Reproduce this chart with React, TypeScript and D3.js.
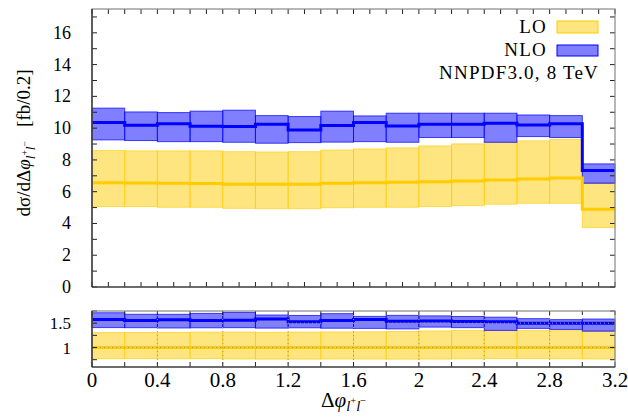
import * as d3 from "d3";
import React from "react";

// bin lower edges (width 0.2)
const binLow = [0, 0.2, 0.4, 0.6, 0.8, 1.0, 1.2, 1.4, 1.6, 1.8, 2.0, 2.2, 2.4, 2.6, 2.8, 3.0];
const binWidth = 0.2;

const loCentral = [6.57, 6.55, 6.53, 6.51, 6.47, 6.47, 6.47, 6.53, 6.57, 6.59, 6.63, 6.68, 6.74, 6.8, 6.86, 4.89];
const loUpper = [8.59, 8.57, 8.57, 8.57, 8.52, 8.5, 8.52, 8.62, 8.69, 8.76, 8.88, 9.01, 9.11, 9.2, 9.3, 6.57];
const loLower = [5.06, 5.06, 5.02, 5.02, 4.95, 4.93, 4.93, 4.99, 5.02, 5.02, 5.06, 5.12, 5.21, 5.27, 5.27, 3.74];

const nloCentral = [10.35, 10.18, 10.27, 10.12, 10.1, 10.25, 9.89, 10.16, 10.35, 10.14, 10.25, 10.25, 10.31, 10.2, 10.27, 7.33];
const nloUpper = [11.26, 11.02, 10.98, 11.07, 11.13, 10.79, 10.73, 11.07, 10.77, 10.94, 10.94, 10.94, 10.94, 10.83, 10.79, 7.75];
const nloLower = [9.26, 9.22, 9.15, 9.15, 9.11, 9.05, 9.09, 9.12, 9.15, 9.11, 9.41, 9.41, 9.11, 9.47, 9.41, 6.53];

const xTickLabels = [0, 0.4, 0.8, 1.2, 1.6, 2, 2.4, 2.8, 3.2];
const yTickLabels = [0, 2, 4, 6, 8, 10, 12, 14, 16];
const ratioTickLabels = [1, 1.5];

const FONT = "Liberation Serif, DejaVu Serif, serif";
const BLUE = "#0000ff";
const BLUE_FILL = "rgba(0,0,255,0.5)";
const GOLD = "#ffcc00";
const GOLD_FILL = "rgba(255,204,0,0.5)";

const left = 92;
const right = 615;
const mainTop = 9;
const mainBottom = 287;
const ratioTop = 311;
const ratioBottom = 367;

const x = d3.scaleLinear().domain([0, 3.2]).range([left, right]);
const y = d3.scaleLinear().domain([0, 17.5]).range([mainBottom, mainTop]);
const yr = d3.scaleLinear().domain([0.6, 1.75]).range([ratioBottom, ratioTop]);

const stepPath = (vals: number[], ys: d3.ScaleLinear<number, number>) => {
  const pts: [number, number][] = binLow.map((b, i) => [b, vals[i]]);
  pts.push([binLow[binLow.length - 1] + binWidth, vals[vals.length - 1]]);
  return d3
    .line<[number, number]>()
    .x((d) => x(d[0]))
    .y((d) => ys(d[1]))
    .curve(d3.curveStepAfter)(pts) as string;
};

const Bands = ({ lo, hi, ys, fill, stroke }: any) => (
  <g>
    {binLow.map((b, i) => (
      <rect
        key={i}
        x={x(b)}
        y={ys(hi[i])}
        width={x(b + binWidth) - x(b)}
        height={ys(lo[i]) - ys(hi[i])}
        fill={fill}
        stroke={stroke}
        strokeWidth={1}
      />
    ))}
  </g>
);

// subscript l+l- used in both axis labels (leaves baseline shifted by d - u)
const Sub = ({ size, d, u }: { size: number; d: number; u: number }) => (
  <>
    <tspan fontSize={size * 0.7} fontStyle="italic" dy={d}>l</tspan>
    <tspan fontSize={size * 0.5} dy={-u}>+</tspan>
    <tspan fontSize={size * 0.7} fontStyle="italic" dy={u}>l</tspan>
    <tspan fontSize={size * 0.5} dy={-u}>−</tspan>
  </>
);

export default function App() {
  const ratio = (arr: number[]) => arr.map((v, i) => v / loCentral[i]);
  const xMinor = d3.range(0, 33).map((i) => i / 10);
  const yMinor = d3.range(0, 18);
  const rMinor = [0.75, 1, 1.25, 1.5, 1.75];

  return (
    <svg width={628} height={417} style={{ position: "absolute", left: 0, top: 0, fontFamily: FONT }}>
      <rect width={628} height={417} fill="#fff" />

      {/* main panel */}
      <Bands lo={loLower} hi={loUpper} ys={y} fill={GOLD_FILL} stroke="rgba(255,204,0,0.6)" />
      <Bands lo={nloLower} hi={nloUpper} ys={y} fill={BLUE_FILL} stroke="rgba(0,0,255,0.7)" />
      <path d={stepPath(loCentral, y)} fill="none" stroke={GOLD} strokeWidth={3} />
      <path d={stepPath(nloCentral, y)} fill="none" stroke={BLUE} strokeWidth={3} />

      {/* main ticks */}
      <g stroke="#222" strokeWidth={1}>
        {xMinor.map((t, i) => (
          <g key={i}>
            <line x1={x(t)} x2={x(t)} y1={mainBottom} y2={mainBottom - 5} />
            <line x1={x(t)} x2={x(t)} y1={mainTop} y2={mainTop + 5} />
          </g>
        ))}
        {yMinor.map((t, i) => (
          <g key={i}>
            <line x1={left} x2={left + 5} y1={y(t)} y2={y(t)} />
            <line x1={right} x2={right - 5} y1={y(t)} y2={y(t)} />
          </g>
        ))}
      </g>
      <rect x={left} y={mainTop} width={right - left} height={mainBottom - mainTop} fill="none" stroke="#888" strokeWidth={1.2} />
      <line x1={left} x2={left} y1={mainTop} y2={mainBottom} stroke="#222" strokeWidth={1.2} />
      <line x1={left} x2={right} y1={mainBottom} y2={mainBottom} stroke="#222" strokeWidth={1.2} />
      {yTickLabels.map((t) => (
        <text key={t} x={71} y={y(t) + 6} textAnchor="end" fontSize={18}>
          {t}
        </text>
      ))}

      {/* legend */}
      <g fontSize={19} letterSpacing={1.2}>
        <text x={547} y={33} textAnchor="end">LO</text>
        <rect x={557} y={21} width={41} height={12} fill={GOLD_FILL} stroke={GOLD} strokeWidth={1} />
        <text x={547} y={56} textAnchor="end">NLO</text>
        <rect x={557} y={45} width={41} height={11} fill={BLUE_FILL} stroke={BLUE} strokeWidth={1} />
        <text x={599} y={79} textAnchor="end">NNPDF3.0, 8 TeV</text>
      </g>

      {/* y label */}
      <text transform="translate(30,143) rotate(-90)" textAnchor="middle" fontSize={19}>
        dσ/dΔ<tspan fontStyle="italic">φ</tspan>
        <Sub size={19} d={5} u={7} />
        <tspan dy={2}>{"\u00a0\u00a0\u00a0[fb/0.2]"}</tspan>
      </text>

      {/* ratio panel */}
      <Bands lo={ratio(loLower)} hi={ratio(loUpper)} ys={yr} fill={GOLD_FILL} stroke="rgba(255,204,0,0.6)" />
      <Bands lo={ratio(nloLower)} hi={ratio(nloUpper)} ys={yr} fill={BLUE_FILL} stroke="rgba(0,0,255,0.7)" />
      <path d={stepPath(ratio(loCentral), yr)} fill="none" stroke={GOLD} strokeWidth={3} />
      <path d={stepPath(ratio(nloCentral), yr)} fill="none" stroke={BLUE} strokeWidth={3} />

      {/* ratio grid */}
      <g stroke="#999" strokeWidth={1} strokeDasharray="1,3">
        {xTickLabels.slice(1, -1).map((t) => (
          <line key={t} x1={x(t)} x2={x(t)} y1={ratioTop} y2={ratioBottom} />
        ))}
        {ratioTickLabels.map((t) => (
          <line key={t} x1={left} x2={right} y1={yr(t)} y2={yr(t)} />
        ))}
      </g>
      <g stroke="#222" strokeWidth={1}>
        {binLow.concat([3.2]).map((t, i) => (
          <g key={i}>
            <line x1={x(t)} x2={x(t)} y1={ratioBottom} y2={ratioBottom - 5} />
            <line x1={x(t)} x2={x(t)} y1={ratioTop} y2={ratioTop + 4} />
          </g>
        ))}
        {rMinor.map((t, i) => (
          <g key={i}>
            <line x1={left} x2={left + 5} y1={yr(t)} y2={yr(t)} />
            <line x1={right} x2={right - 5} y1={yr(t)} y2={yr(t)} />
          </g>
        ))}
      </g>
      <rect x={left} y={ratioTop} width={right - left} height={ratioBottom - ratioTop} fill="none" stroke="#888" strokeWidth={1.2} />
      <line x1={left} x2={left} y1={ratioTop} y2={ratioBottom} stroke="#222" strokeWidth={1.2} />
      <line x1={left} x2={right} y1={ratioBottom} y2={ratioBottom} stroke="#222" strokeWidth={1.2} />
      {ratioTickLabels.map((t) => (
        <text key={t} x={71} y={yr(t) + 6} textAnchor="end" fontSize={17}>
          {t}
        </text>
      ))}
      {xTickLabels.map((t) => (
        <text key={t} x={x(t)} y={387} textAnchor="middle" fontSize={21}>
          {t}
        </text>
      ))}

      {/* x label */}
      <text x={321} y={407} fontSize={21}>
        Δ<tspan fontStyle="italic">φ</tspan>
        <Sub size={21} d={4} u={7} />
      </text>
    </svg>
  );
}
